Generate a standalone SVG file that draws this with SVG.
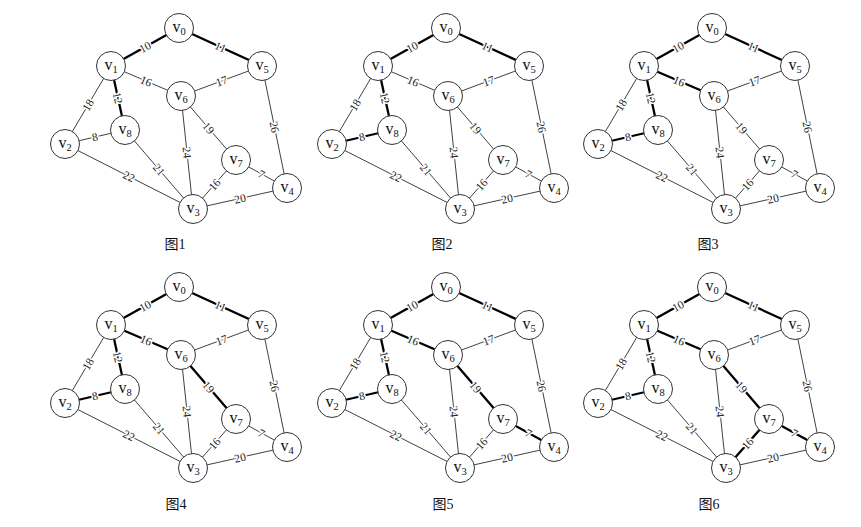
<svg xmlns="http://www.w3.org/2000/svg" width="861" height="527" viewBox="0 0 861 527">
<style>
.e{stroke:#2a2a2a;stroke-width:0.9;fill:none}
.b{stroke:#000;stroke-width:2.3;fill:none}
.l{font-family:"Liberation Serif","Times New Roman",serif;font-size:11.5px;fill:#222;text-anchor:middle;stroke:#fff;stroke-width:3;paint-order:stroke;stroke-linejoin:round}
.node circle{fill:#fff;stroke:#333;stroke-width:1}
.node text{font-family:"Liberation Serif","Times New Roman",serif;font-size:16px;fill:#111;text-anchor:middle}
.node tspan{font-size:10.5px}
.cap{font-family:"Liberation Serif","Noto Sans CJK SC",serif;font-size:14px;fill:#111;text-anchor:middle}
</style>
<rect width="861" height="527" fill="#fff"/>

<g id="graph1">
<g id="g1-edges">
<line class="b" x1="179" y1="28" x2="111" y2="66"/>
<line class="b" x1="179" y1="28" x2="262" y2="66"/>
<line class="e" x1="111" y1="66" x2="181" y2="96"/>
<line class="b" x1="111" y1="66" x2="125" y2="130"/>
<line class="e" x1="111" y1="66" x2="65" y2="144"/>
<line class="e" x1="65" y1="144" x2="125" y2="130"/>
<line class="e" x1="65" y1="144" x2="193" y2="209"/>
<line class="e" x1="125" y1="130" x2="193" y2="209"/>
<line class="e" x1="181" y1="96" x2="262" y2="66"/>
<line class="e" x1="181" y1="96" x2="193" y2="209"/>
<line class="e" x1="181" y1="96" x2="236" y2="160"/>
<line class="e" x1="262" y1="66" x2="287" y2="188"/>
<line class="e" x1="236" y1="160" x2="287" y2="188"/>
<line class="e" x1="236" y1="160" x2="193" y2="209"/>
<line class="e" x1="193" y1="209" x2="287" y2="188"/>
<text class="l" transform="translate(145,47) rotate(-29.2)" dy="0.35em">10</text>
<text class="l" transform="translate(220.5,47) rotate(24.6)" dy="0.35em">11</text>
<text class="l" transform="translate(146,81) rotate(23.2)" dy="0.35em">16</text>
<text class="l" transform="translate(118,98) rotate(77.7)" dy="0.35em">12</text>
<text class="l" transform="translate(88,105) rotate(-59.5)" dy="0.35em">18</text>
<text class="l" transform="translate(95,137) rotate(-13.1)" dy="0.35em">8</text>
<text class="l" transform="translate(129,176.5) rotate(26.9)" dy="0.35em">22</text>
<text class="l" transform="translate(159,169.5) rotate(49.3)" dy="0.35em">21</text>
<text class="l" transform="translate(221.5,81) rotate(-20.3)" dy="0.35em">17</text>
<text class="l" transform="translate(187,152.5) rotate(83.9)" dy="0.35em">24</text>
<text class="l" transform="translate(208.5,128) rotate(49.3)" dy="0.35em">19</text>
<text class="l" transform="translate(274.5,127) rotate(78.4)" dy="0.35em">26</text>
<text class="l" transform="translate(261.5,174) rotate(28.8)" dy="0.35em">7</text>
<text class="l" transform="translate(214.5,184.5) rotate(-48.7)" dy="0.35em">16</text>
<text class="l" transform="translate(240,198.5) rotate(-12.6)" dy="0.35em">20</text>
</g>
<g id="g1-v0" class="node"><circle cx="179" cy="28" r="14.5"/><text x="179" y="32">v<tspan dy="2.5">0</tspan></text></g>
<g id="g1-v1" class="node"><circle cx="111" cy="66" r="14.5"/><text x="111" y="70">v<tspan dy="2.5">1</tspan></text></g>
<g id="g1-v2" class="node"><circle cx="65" cy="144" r="14.5"/><text x="65" y="148">v<tspan dy="2.5">2</tspan></text></g>
<g id="g1-v3" class="node"><circle cx="193" cy="209" r="14.5"/><text x="193" y="213">v<tspan dy="2.5">3</tspan></text></g>
<g id="g1-v4" class="node"><circle cx="287" cy="188" r="14.5"/><text x="287" y="192">v<tspan dy="2.5">4</tspan></text></g>
<g id="g1-v5" class="node"><circle cx="262" cy="66" r="14.5"/><text x="262" y="70">v<tspan dy="2.5">5</tspan></text></g>
<g id="g1-v6" class="node"><circle cx="181" cy="96" r="14.5"/><text x="181" y="100">v<tspan dy="2.5">6</tspan></text></g>
<g id="g1-v7" class="node"><circle cx="236" cy="160" r="14.5"/><text x="236" y="164">v<tspan dy="2.5">7</tspan></text></g>
<g id="g1-v8" class="node"><circle cx="125" cy="130" r="14.5"/><text x="125" y="134">v<tspan dy="2.5">8</tspan></text></g>
<text class="cap" x="175" y="249">图1</text>
</g>

<g id="graph2" transform="translate(267,0)">
<g id="g2-edges">
<line class="b" x1="179" y1="28" x2="111" y2="66"/>
<line class="b" x1="179" y1="28" x2="262" y2="66"/>
<line class="e" x1="111" y1="66" x2="181" y2="96"/>
<line class="b" x1="111" y1="66" x2="125" y2="130"/>
<line class="e" x1="111" y1="66" x2="65" y2="144"/>
<line class="b" x1="65" y1="144" x2="125" y2="130"/>
<line class="e" x1="65" y1="144" x2="193" y2="209"/>
<line class="e" x1="125" y1="130" x2="193" y2="209"/>
<line class="e" x1="181" y1="96" x2="262" y2="66"/>
<line class="e" x1="181" y1="96" x2="193" y2="209"/>
<line class="e" x1="181" y1="96" x2="236" y2="160"/>
<line class="e" x1="262" y1="66" x2="287" y2="188"/>
<line class="e" x1="236" y1="160" x2="287" y2="188"/>
<line class="e" x1="236" y1="160" x2="193" y2="209"/>
<line class="e" x1="193" y1="209" x2="287" y2="188"/>
<text class="l" transform="translate(145,47) rotate(-29.2)" dy="0.35em">10</text>
<text class="l" transform="translate(220.5,47) rotate(24.6)" dy="0.35em">11</text>
<text class="l" transform="translate(146,81) rotate(23.2)" dy="0.35em">16</text>
<text class="l" transform="translate(118,98) rotate(77.7)" dy="0.35em">12</text>
<text class="l" transform="translate(88,105) rotate(-59.5)" dy="0.35em">18</text>
<text class="l" transform="translate(95,137) rotate(-13.1)" dy="0.35em">8</text>
<text class="l" transform="translate(129,176.5) rotate(26.9)" dy="0.35em">22</text>
<text class="l" transform="translate(159,169.5) rotate(49.3)" dy="0.35em">21</text>
<text class="l" transform="translate(221.5,81) rotate(-20.3)" dy="0.35em">17</text>
<text class="l" transform="translate(187,152.5) rotate(83.9)" dy="0.35em">24</text>
<text class="l" transform="translate(208.5,128) rotate(49.3)" dy="0.35em">19</text>
<text class="l" transform="translate(274.5,127) rotate(78.4)" dy="0.35em">26</text>
<text class="l" transform="translate(261.5,174) rotate(28.8)" dy="0.35em">7</text>
<text class="l" transform="translate(214.5,184.5) rotate(-48.7)" dy="0.35em">16</text>
<text class="l" transform="translate(240,198.5) rotate(-12.6)" dy="0.35em">20</text>
</g>
<g id="g2-v0" class="node"><circle cx="179" cy="28" r="14.5"/><text x="179" y="32">v<tspan dy="2.5">0</tspan></text></g>
<g id="g2-v1" class="node"><circle cx="111" cy="66" r="14.5"/><text x="111" y="70">v<tspan dy="2.5">1</tspan></text></g>
<g id="g2-v2" class="node"><circle cx="65" cy="144" r="14.5"/><text x="65" y="148">v<tspan dy="2.5">2</tspan></text></g>
<g id="g2-v3" class="node"><circle cx="193" cy="209" r="14.5"/><text x="193" y="213">v<tspan dy="2.5">3</tspan></text></g>
<g id="g2-v4" class="node"><circle cx="287" cy="188" r="14.5"/><text x="287" y="192">v<tspan dy="2.5">4</tspan></text></g>
<g id="g2-v5" class="node"><circle cx="262" cy="66" r="14.5"/><text x="262" y="70">v<tspan dy="2.5">5</tspan></text></g>
<g id="g2-v6" class="node"><circle cx="181" cy="96" r="14.5"/><text x="181" y="100">v<tspan dy="2.5">6</tspan></text></g>
<g id="g2-v7" class="node"><circle cx="236" cy="160" r="14.5"/><text x="236" y="164">v<tspan dy="2.5">7</tspan></text></g>
<g id="g2-v8" class="node"><circle cx="125" cy="130" r="14.5"/><text x="125" y="134">v<tspan dy="2.5">8</tspan></text></g>
<text class="cap" x="175" y="249">图2</text>
</g>

<g id="graph3" transform="translate(533,0)">
<g id="g3-edges">
<line class="b" x1="179" y1="28" x2="111" y2="66"/>
<line class="b" x1="179" y1="28" x2="262" y2="66"/>
<line class="b" x1="111" y1="66" x2="181" y2="96"/>
<line class="b" x1="111" y1="66" x2="125" y2="130"/>
<line class="e" x1="111" y1="66" x2="65" y2="144"/>
<line class="b" x1="65" y1="144" x2="125" y2="130"/>
<line class="e" x1="65" y1="144" x2="193" y2="209"/>
<line class="e" x1="125" y1="130" x2="193" y2="209"/>
<line class="e" x1="181" y1="96" x2="262" y2="66"/>
<line class="e" x1="181" y1="96" x2="193" y2="209"/>
<line class="e" x1="181" y1="96" x2="236" y2="160"/>
<line class="e" x1="262" y1="66" x2="287" y2="188"/>
<line class="e" x1="236" y1="160" x2="287" y2="188"/>
<line class="e" x1="236" y1="160" x2="193" y2="209"/>
<line class="e" x1="193" y1="209" x2="287" y2="188"/>
<text class="l" transform="translate(145,47) rotate(-29.2)" dy="0.35em">10</text>
<text class="l" transform="translate(220.5,47) rotate(24.6)" dy="0.35em">11</text>
<text class="l" transform="translate(146,81) rotate(23.2)" dy="0.35em">16</text>
<text class="l" transform="translate(118,98) rotate(77.7)" dy="0.35em">12</text>
<text class="l" transform="translate(88,105) rotate(-59.5)" dy="0.35em">18</text>
<text class="l" transform="translate(95,137) rotate(-13.1)" dy="0.35em">8</text>
<text class="l" transform="translate(129,176.5) rotate(26.9)" dy="0.35em">22</text>
<text class="l" transform="translate(159,169.5) rotate(49.3)" dy="0.35em">21</text>
<text class="l" transform="translate(221.5,81) rotate(-20.3)" dy="0.35em">17</text>
<text class="l" transform="translate(187,152.5) rotate(83.9)" dy="0.35em">24</text>
<text class="l" transform="translate(208.5,128) rotate(49.3)" dy="0.35em">19</text>
<text class="l" transform="translate(274.5,127) rotate(78.4)" dy="0.35em">26</text>
<text class="l" transform="translate(261.5,174) rotate(28.8)" dy="0.35em">7</text>
<text class="l" transform="translate(214.5,184.5) rotate(-48.7)" dy="0.35em">16</text>
<text class="l" transform="translate(240,198.5) rotate(-12.6)" dy="0.35em">20</text>
</g>
<g id="g3-v0" class="node"><circle cx="179" cy="28" r="14.5"/><text x="179" y="32">v<tspan dy="2.5">0</tspan></text></g>
<g id="g3-v1" class="node"><circle cx="111" cy="66" r="14.5"/><text x="111" y="70">v<tspan dy="2.5">1</tspan></text></g>
<g id="g3-v2" class="node"><circle cx="65" cy="144" r="14.5"/><text x="65" y="148">v<tspan dy="2.5">2</tspan></text></g>
<g id="g3-v3" class="node"><circle cx="193" cy="209" r="14.5"/><text x="193" y="213">v<tspan dy="2.5">3</tspan></text></g>
<g id="g3-v4" class="node"><circle cx="287" cy="188" r="14.5"/><text x="287" y="192">v<tspan dy="2.5">4</tspan></text></g>
<g id="g3-v5" class="node"><circle cx="262" cy="66" r="14.5"/><text x="262" y="70">v<tspan dy="2.5">5</tspan></text></g>
<g id="g3-v6" class="node"><circle cx="181" cy="96" r="14.5"/><text x="181" y="100">v<tspan dy="2.5">6</tspan></text></g>
<g id="g3-v7" class="node"><circle cx="236" cy="160" r="14.5"/><text x="236" y="164">v<tspan dy="2.5">7</tspan></text></g>
<g id="g3-v8" class="node"><circle cx="125" cy="130" r="14.5"/><text x="125" y="134">v<tspan dy="2.5">8</tspan></text></g>
<text class="cap" x="175" y="249">图3</text>
</g>

<g id="graph4" transform="translate(0,259)">
<g id="g4-edges">
<line class="b" x1="179" y1="28" x2="111" y2="66"/>
<line class="b" x1="179" y1="28" x2="262" y2="66"/>
<line class="b" x1="111" y1="66" x2="181" y2="96"/>
<line class="b" x1="111" y1="66" x2="125" y2="130"/>
<line class="e" x1="111" y1="66" x2="65" y2="144"/>
<line class="b" x1="65" y1="144" x2="125" y2="130"/>
<line class="e" x1="65" y1="144" x2="193" y2="209"/>
<line class="e" x1="125" y1="130" x2="193" y2="209"/>
<line class="e" x1="181" y1="96" x2="262" y2="66"/>
<line class="e" x1="181" y1="96" x2="193" y2="209"/>
<line class="b" x1="181" y1="96" x2="236" y2="160"/>
<line class="e" x1="262" y1="66" x2="287" y2="188"/>
<line class="e" x1="236" y1="160" x2="287" y2="188"/>
<line class="e" x1="236" y1="160" x2="193" y2="209"/>
<line class="e" x1="193" y1="209" x2="287" y2="188"/>
<text class="l" transform="translate(145,47) rotate(-29.2)" dy="0.35em">10</text>
<text class="l" transform="translate(220.5,47) rotate(24.6)" dy="0.35em">11</text>
<text class="l" transform="translate(146,81) rotate(23.2)" dy="0.35em">16</text>
<text class="l" transform="translate(118,98) rotate(77.7)" dy="0.35em">12</text>
<text class="l" transform="translate(88,105) rotate(-59.5)" dy="0.35em">18</text>
<text class="l" transform="translate(95,137) rotate(-13.1)" dy="0.35em">8</text>
<text class="l" transform="translate(129,176.5) rotate(26.9)" dy="0.35em">22</text>
<text class="l" transform="translate(159,169.5) rotate(49.3)" dy="0.35em">21</text>
<text class="l" transform="translate(221.5,81) rotate(-20.3)" dy="0.35em">17</text>
<text class="l" transform="translate(187,152.5) rotate(83.9)" dy="0.35em">24</text>
<text class="l" transform="translate(208.5,128) rotate(49.3)" dy="0.35em">19</text>
<text class="l" transform="translate(274.5,127) rotate(78.4)" dy="0.35em">26</text>
<text class="l" transform="translate(261.5,174) rotate(28.8)" dy="0.35em">7</text>
<text class="l" transform="translate(214.5,184.5) rotate(-48.7)" dy="0.35em">16</text>
<text class="l" transform="translate(240,198.5) rotate(-12.6)" dy="0.35em">20</text>
</g>
<g id="g4-v0" class="node"><circle cx="179" cy="28" r="14.5"/><text x="179" y="32">v<tspan dy="2.5">0</tspan></text></g>
<g id="g4-v1" class="node"><circle cx="111" cy="66" r="14.5"/><text x="111" y="70">v<tspan dy="2.5">1</tspan></text></g>
<g id="g4-v2" class="node"><circle cx="65" cy="144" r="14.5"/><text x="65" y="148">v<tspan dy="2.5">2</tspan></text></g>
<g id="g4-v3" class="node"><circle cx="193" cy="209" r="14.5"/><text x="193" y="213">v<tspan dy="2.5">3</tspan></text></g>
<g id="g4-v4" class="node"><circle cx="287" cy="188" r="14.5"/><text x="287" y="192">v<tspan dy="2.5">4</tspan></text></g>
<g id="g4-v5" class="node"><circle cx="262" cy="66" r="14.5"/><text x="262" y="70">v<tspan dy="2.5">5</tspan></text></g>
<g id="g4-v6" class="node"><circle cx="181" cy="96" r="14.5"/><text x="181" y="100">v<tspan dy="2.5">6</tspan></text></g>
<g id="g4-v7" class="node"><circle cx="236" cy="160" r="14.5"/><text x="236" y="164">v<tspan dy="2.5">7</tspan></text></g>
<g id="g4-v8" class="node"><circle cx="125" cy="130" r="14.5"/><text x="125" y="134">v<tspan dy="2.5">8</tspan></text></g>
<text class="cap" x="176" y="250">图4</text>
</g>

<g id="graph5" transform="translate(267,259)">
<g id="g5-edges">
<line class="b" x1="179" y1="28" x2="111" y2="66"/>
<line class="b" x1="179" y1="28" x2="262" y2="66"/>
<line class="b" x1="111" y1="66" x2="181" y2="96"/>
<line class="b" x1="111" y1="66" x2="125" y2="130"/>
<line class="e" x1="111" y1="66" x2="65" y2="144"/>
<line class="b" x1="65" y1="144" x2="125" y2="130"/>
<line class="e" x1="65" y1="144" x2="193" y2="209"/>
<line class="e" x1="125" y1="130" x2="193" y2="209"/>
<line class="e" x1="181" y1="96" x2="262" y2="66"/>
<line class="e" x1="181" y1="96" x2="193" y2="209"/>
<line class="b" x1="181" y1="96" x2="236" y2="160"/>
<line class="e" x1="262" y1="66" x2="287" y2="188"/>
<line class="b" x1="236" y1="160" x2="287" y2="188"/>
<line class="e" x1="236" y1="160" x2="193" y2="209"/>
<line class="e" x1="193" y1="209" x2="287" y2="188"/>
<text class="l" transform="translate(145,47) rotate(-29.2)" dy="0.35em">10</text>
<text class="l" transform="translate(220.5,47) rotate(24.6)" dy="0.35em">11</text>
<text class="l" transform="translate(146,81) rotate(23.2)" dy="0.35em">16</text>
<text class="l" transform="translate(118,98) rotate(77.7)" dy="0.35em">12</text>
<text class="l" transform="translate(88,105) rotate(-59.5)" dy="0.35em">18</text>
<text class="l" transform="translate(95,137) rotate(-13.1)" dy="0.35em">8</text>
<text class="l" transform="translate(129,176.5) rotate(26.9)" dy="0.35em">22</text>
<text class="l" transform="translate(159,169.5) rotate(49.3)" dy="0.35em">21</text>
<text class="l" transform="translate(221.5,81) rotate(-20.3)" dy="0.35em">17</text>
<text class="l" transform="translate(187,152.5) rotate(83.9)" dy="0.35em">24</text>
<text class="l" transform="translate(208.5,128) rotate(49.3)" dy="0.35em">19</text>
<text class="l" transform="translate(274.5,127) rotate(78.4)" dy="0.35em">26</text>
<text class="l" transform="translate(261.5,174) rotate(28.8)" dy="0.35em">7</text>
<text class="l" transform="translate(214.5,184.5) rotate(-48.7)" dy="0.35em">16</text>
<text class="l" transform="translate(240,198.5) rotate(-12.6)" dy="0.35em">20</text>
</g>
<g id="g5-v0" class="node"><circle cx="179" cy="28" r="14.5"/><text x="179" y="32">v<tspan dy="2.5">0</tspan></text></g>
<g id="g5-v1" class="node"><circle cx="111" cy="66" r="14.5"/><text x="111" y="70">v<tspan dy="2.5">1</tspan></text></g>
<g id="g5-v2" class="node"><circle cx="65" cy="144" r="14.5"/><text x="65" y="148">v<tspan dy="2.5">2</tspan></text></g>
<g id="g5-v3" class="node"><circle cx="193" cy="209" r="14.5"/><text x="193" y="213">v<tspan dy="2.5">3</tspan></text></g>
<g id="g5-v4" class="node"><circle cx="287" cy="188" r="14.5"/><text x="287" y="192">v<tspan dy="2.5">4</tspan></text></g>
<g id="g5-v5" class="node"><circle cx="262" cy="66" r="14.5"/><text x="262" y="70">v<tspan dy="2.5">5</tspan></text></g>
<g id="g5-v6" class="node"><circle cx="181" cy="96" r="14.5"/><text x="181" y="100">v<tspan dy="2.5">6</tspan></text></g>
<g id="g5-v7" class="node"><circle cx="236" cy="160" r="14.5"/><text x="236" y="164">v<tspan dy="2.5">7</tspan></text></g>
<g id="g5-v8" class="node"><circle cx="125" cy="130" r="14.5"/><text x="125" y="134">v<tspan dy="2.5">8</tspan></text></g>
<text class="cap" x="176" y="250">图5</text>
</g>

<g id="graph6" transform="translate(533,259)">
<g id="g6-edges">
<line class="b" x1="179" y1="28" x2="111" y2="66"/>
<line class="b" x1="179" y1="28" x2="262" y2="66"/>
<line class="b" x1="111" y1="66" x2="181" y2="96"/>
<line class="b" x1="111" y1="66" x2="125" y2="130"/>
<line class="e" x1="111" y1="66" x2="65" y2="144"/>
<line class="b" x1="65" y1="144" x2="125" y2="130"/>
<line class="e" x1="65" y1="144" x2="193" y2="209"/>
<line class="e" x1="125" y1="130" x2="193" y2="209"/>
<line class="e" x1="181" y1="96" x2="262" y2="66"/>
<line class="e" x1="181" y1="96" x2="193" y2="209"/>
<line class="b" x1="181" y1="96" x2="236" y2="160"/>
<line class="e" x1="262" y1="66" x2="287" y2="188"/>
<line class="b" x1="236" y1="160" x2="287" y2="188"/>
<line class="b" x1="236" y1="160" x2="193" y2="209"/>
<line class="e" x1="193" y1="209" x2="287" y2="188"/>
<text class="l" transform="translate(145,47) rotate(-29.2)" dy="0.35em">10</text>
<text class="l" transform="translate(220.5,47) rotate(24.6)" dy="0.35em">11</text>
<text class="l" transform="translate(146,81) rotate(23.2)" dy="0.35em">16</text>
<text class="l" transform="translate(118,98) rotate(77.7)" dy="0.35em">12</text>
<text class="l" transform="translate(88,105) rotate(-59.5)" dy="0.35em">18</text>
<text class="l" transform="translate(95,137) rotate(-13.1)" dy="0.35em">8</text>
<text class="l" transform="translate(129,176.5) rotate(26.9)" dy="0.35em">22</text>
<text class="l" transform="translate(159,169.5) rotate(49.3)" dy="0.35em">21</text>
<text class="l" transform="translate(221.5,81) rotate(-20.3)" dy="0.35em">17</text>
<text class="l" transform="translate(187,152.5) rotate(83.9)" dy="0.35em">24</text>
<text class="l" transform="translate(208.5,128) rotate(49.3)" dy="0.35em">19</text>
<text class="l" transform="translate(274.5,127) rotate(78.4)" dy="0.35em">26</text>
<text class="l" transform="translate(261.5,174) rotate(28.8)" dy="0.35em">7</text>
<text class="l" transform="translate(214.5,184.5) rotate(-48.7)" dy="0.35em">16</text>
<text class="l" transform="translate(240,198.5) rotate(-12.6)" dy="0.35em">20</text>
</g>
<g id="g6-v0" class="node"><circle cx="179" cy="28" r="14.5"/><text x="179" y="32">v<tspan dy="2.5">0</tspan></text></g>
<g id="g6-v1" class="node"><circle cx="111" cy="66" r="14.5"/><text x="111" y="70">v<tspan dy="2.5">1</tspan></text></g>
<g id="g6-v2" class="node"><circle cx="65" cy="144" r="14.5"/><text x="65" y="148">v<tspan dy="2.5">2</tspan></text></g>
<g id="g6-v3" class="node"><circle cx="193" cy="209" r="14.5"/><text x="193" y="213">v<tspan dy="2.5">3</tspan></text></g>
<g id="g6-v4" class="node"><circle cx="287" cy="188" r="14.5"/><text x="287" y="192">v<tspan dy="2.5">4</tspan></text></g>
<g id="g6-v5" class="node"><circle cx="262" cy="66" r="14.5"/><text x="262" y="70">v<tspan dy="2.5">5</tspan></text></g>
<g id="g6-v6" class="node"><circle cx="181" cy="96" r="14.5"/><text x="181" y="100">v<tspan dy="2.5">6</tspan></text></g>
<g id="g6-v7" class="node"><circle cx="236" cy="160" r="14.5"/><text x="236" y="164">v<tspan dy="2.5">7</tspan></text></g>
<g id="g6-v8" class="node"><circle cx="125" cy="130" r="14.5"/><text x="125" y="134">v<tspan dy="2.5">8</tspan></text></g>
<text class="cap" x="176" y="250">图6</text>
</g>
</svg>
